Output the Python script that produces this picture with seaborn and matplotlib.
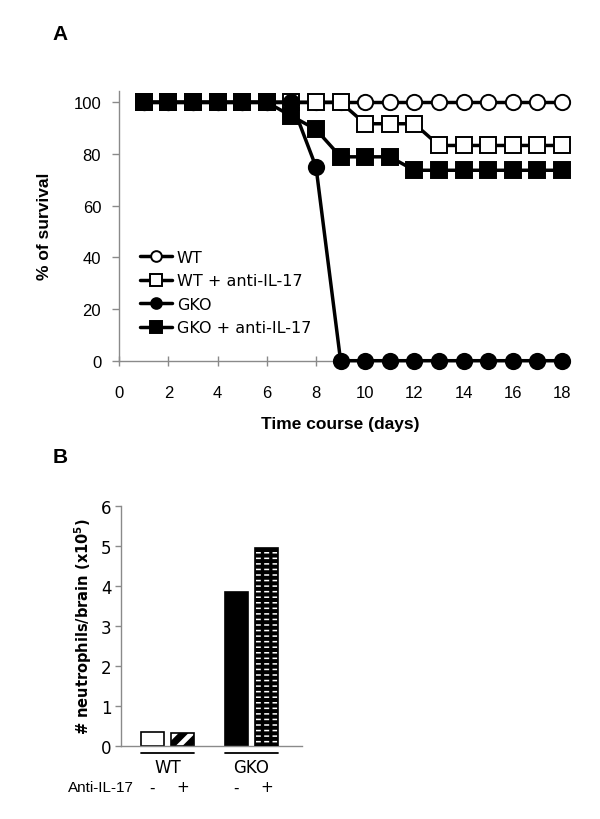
import numpy as np
import pandas as pd
import matplotlib
matplotlib.use('Agg')
import matplotlib.pyplot as plt
import matplotlib.transforms as mtransforms
from matplotlib.patches import Rectangle
import seaborn as sns

# panel A: survival (%) by day
days = [1, 2, 3, 4, 5, 6, 7, 8, 9, 10, 11, 12, 13, 14, 15, 16, 17, 18]
wt = [100, 100, 100, 100, 100, 100, 100, 100, 100, 100, 100, 100, 100, 100, 100, 100, 100, 100]
wt_anti = [100, 100, 100, 100, 100, 100, 100, 100, 100, 91.7, 91.7, 91.7, 83.3, 83.3, 83.3, 83.3, 83.3, 83.3]
gko = [100, 100, 100, 100, 100, 100, 100, 75, 0, 0, 0, 0, 0, 0, 0, 0, 0, 0]
gko_anti = [100, 100, 100, 100, 100, 100, 94.7, 89.5, 78.9, 78.9, 78.9, 73.7, 73.7, 73.7, 73.7, 73.7, 73.7, 73.7]
series_names = ['WT', 'WT + anti-IL-17', 'GKO', 'GKO + anti-IL-17']

# panel B: neutrophils per brain (x10^5)
groups = ['WT', 'WT', 'GKO', 'GKO']
treatment = ['-', '+', '-', '+']
neutrophils = [0.33, 0.31, 3.85, 4.95]

sns.set_style('white')
plt.rcParams['font.family'] = ['Liberation Sans', 'DejaVu Sans']
plt.rcParams.update({'text.color': 'black', 'axes.labelcolor': 'black',
                     'xtick.labelcolor': 'black', 'ytick.labelcolor': 'black'})
axis_gray = '#8a8a8a'

fig = plt.figure(figsize=(6, 8.2), dpi=100)

# ---------------- panel A ----------------
axA = fig.add_axes([0.1988, 0.5589, 0.750, 0.3293])
styles = [
    dict(marker='o', markerfacecolor='white', markersize=11),
    dict(marker='s', markerfacecolor='white', markersize=11.5),
    dict(marker='o', markerfacecolor='black', markersize=11),
    dict(marker='s', markerfacecolor='black', markersize=11.5),
]
for i, (name, vals) in enumerate(zip(series_names, [wt, wt_anti, gko, gko_anti])):
    sns.lineplot(x=days, y=vals, ax=axA, color='black', lw=2.5,
                 markeredgecolor='black', markeredgewidth=1.4,
                 label=name, clip_on=False, zorder=3 + i, **styles[i])

axA.set_xlim(0, 18.3)
axA.set_ylim(0, 104.5)
axA.set_xticks(np.arange(0, 19, 2))
axA.set_yticks(np.arange(0, 101, 20))
for s in ['top', 'right']:
    axA.spines[s].set_visible(False)
for s in ['left', 'bottom']:
    axA.spines[s].set_color(axis_gray)
    axA.spines[s].set_linewidth(1.0)
axA.tick_params(axis='x', direction='inout', length=7, width=1, color=axis_gray,
                labelsize=12, pad=14, bottom=True)
axA.tick_params(axis='y', direction='out', length=5, width=1, color=axis_gray,
                labelsize=12, pad=8, left=True)
axA.set_xlabel('Time course (days)', fontsize=12.5, fontweight='bold')
axA.set_ylabel('% of survival', fontsize=12.5, fontweight='bold')
axA.xaxis.set_label_coords(0.49, -0.205)
axA.yaxis.set_label_coords(-0.15, 0.5)
leg = axA.legend(loc='upper left', bbox_to_anchor=(0.046, 0.41), frameon=False,
                 borderpad=0, borderaxespad=0, handlelength=2.0, handletextpad=0.3,
                 labelspacing=0.53, markerscale=0.7,
                 prop={'family': 'DejaVu Sans', 'size': 11.5})

fig.text(0.087, 0.951, 'A', fontsize=15, fontweight='bold', va='baseline')

# ---------------- panel B ----------------
axB = fig.add_axes([0.2017, 0.0894, 0.3017, 0.2927])
df = pd.DataFrame({'group': groups, 'treatment': treatment, 'count': neutrophils})
sns.barplot(data=df, x='group', y='count', hue='treatment', ax=axB, width=0.72, gap=0.22,
            palette=['white', 'white'], edgecolor='black', linewidth=1.2, legend=False)

bars = [p for p in axB.patches if isinstance(p, Rectangle) and p.get_height() > 0]
bars = sorted(bars, key=lambda p: p.get_x())

# WT +: thick diagonal stripes
plt.rcParams['hatch.linewidth'] = 5.0
bars[1].set_hatch('//')
if hasattr(bars[1], 'set_hatch_linewidth'):
    bars[1].set_hatch_linewidth(5.0)

# GKO -: solid black
bars[2].set_facecolor('black')

# GKO +: white dashes on black (brick look)
bars[3].set_facecolor('black')
bars[3].set_edgecolor('white')
bars[3].set_hatch('---')
bars[3].set_linewidth(0)
if hasattr(bars[3], 'set_hatch_linewidth'):
    bars[3].set_hatch_linewidth(1.1)
overlay = Rectangle((bars[3].get_x(), 0), bars[3].get_width(), bars[3].get_height(),
                    fill=False, edgecolor='black', hatch='||', linewidth=1.2, zorder=5)
if hasattr(overlay, 'set_hatch_linewidth'):
    overlay.set_hatch_linewidth(2.4)
axB.add_patch(overlay)

axB.set_xlim(-0.554, 1.601)
axB.set_ylim(0, 6)
axB.set_yticks(range(0, 7))
axB.set_xticks([])
axB.set_xlabel('')
for s in ['top', 'right']:
    axB.spines[s].set_visible(False)
for s in ['left', 'bottom']:
    axB.spines[s].set_color(axis_gray)
    axB.spines[s].set_linewidth(1.0)
axB.tick_params(axis='y', direction='out', length=4, width=1, color=axis_gray,
                labelsize=12, pad=3, left=True)
for lab in axB.get_yticklabels():
    lab.set_family('DejaVu Sans')
axB.set_ylabel('# neutrophils/brain (x10$^{\\mathbf{5}}$)', fontsize=10.5,
               fontweight='bold', family='DejaVu Sans')
axB.yaxis.set_label_coords(-0.15, 0.5)

trans = mtransforms.blended_transform_factory(axB.transData, axB.transAxes)
group_names = ['WT', 'GKO']
for g, (left_bar, right_bar) in enumerate([(bars[0], bars[1]), (bars[2], bars[3])]):
    x0 = left_bar.get_x()
    x1 = right_bar.get_x() + right_bar.get_width()
    axB.plot([x0, x1], [-0.03, -0.03], color='black', lw=1.3, transform=trans, clip_on=False)
    axB.text((x0 + x1) / 2, -0.05, group_names[g], transform=trans, ha='center', va='top',
             fontsize=12, family='DejaVu Sans')
for p, t in zip(bars, treatment):
    axB.text(p.get_x() + p.get_width() / 2, -0.172, t, transform=trans, ha='center',
             va='center', fontsize=11, family='DejaVu Sans')
axB.text(0.07, -0.172, 'Anti-IL-17', transform=axB.transAxes, ha='right', va='center',
         fontsize=11)

fig.text(0.087, 0.4354, 'B', fontsize=15, fontweight='bold', va='baseline')

fig.savefig('out.png', dpi=100)
